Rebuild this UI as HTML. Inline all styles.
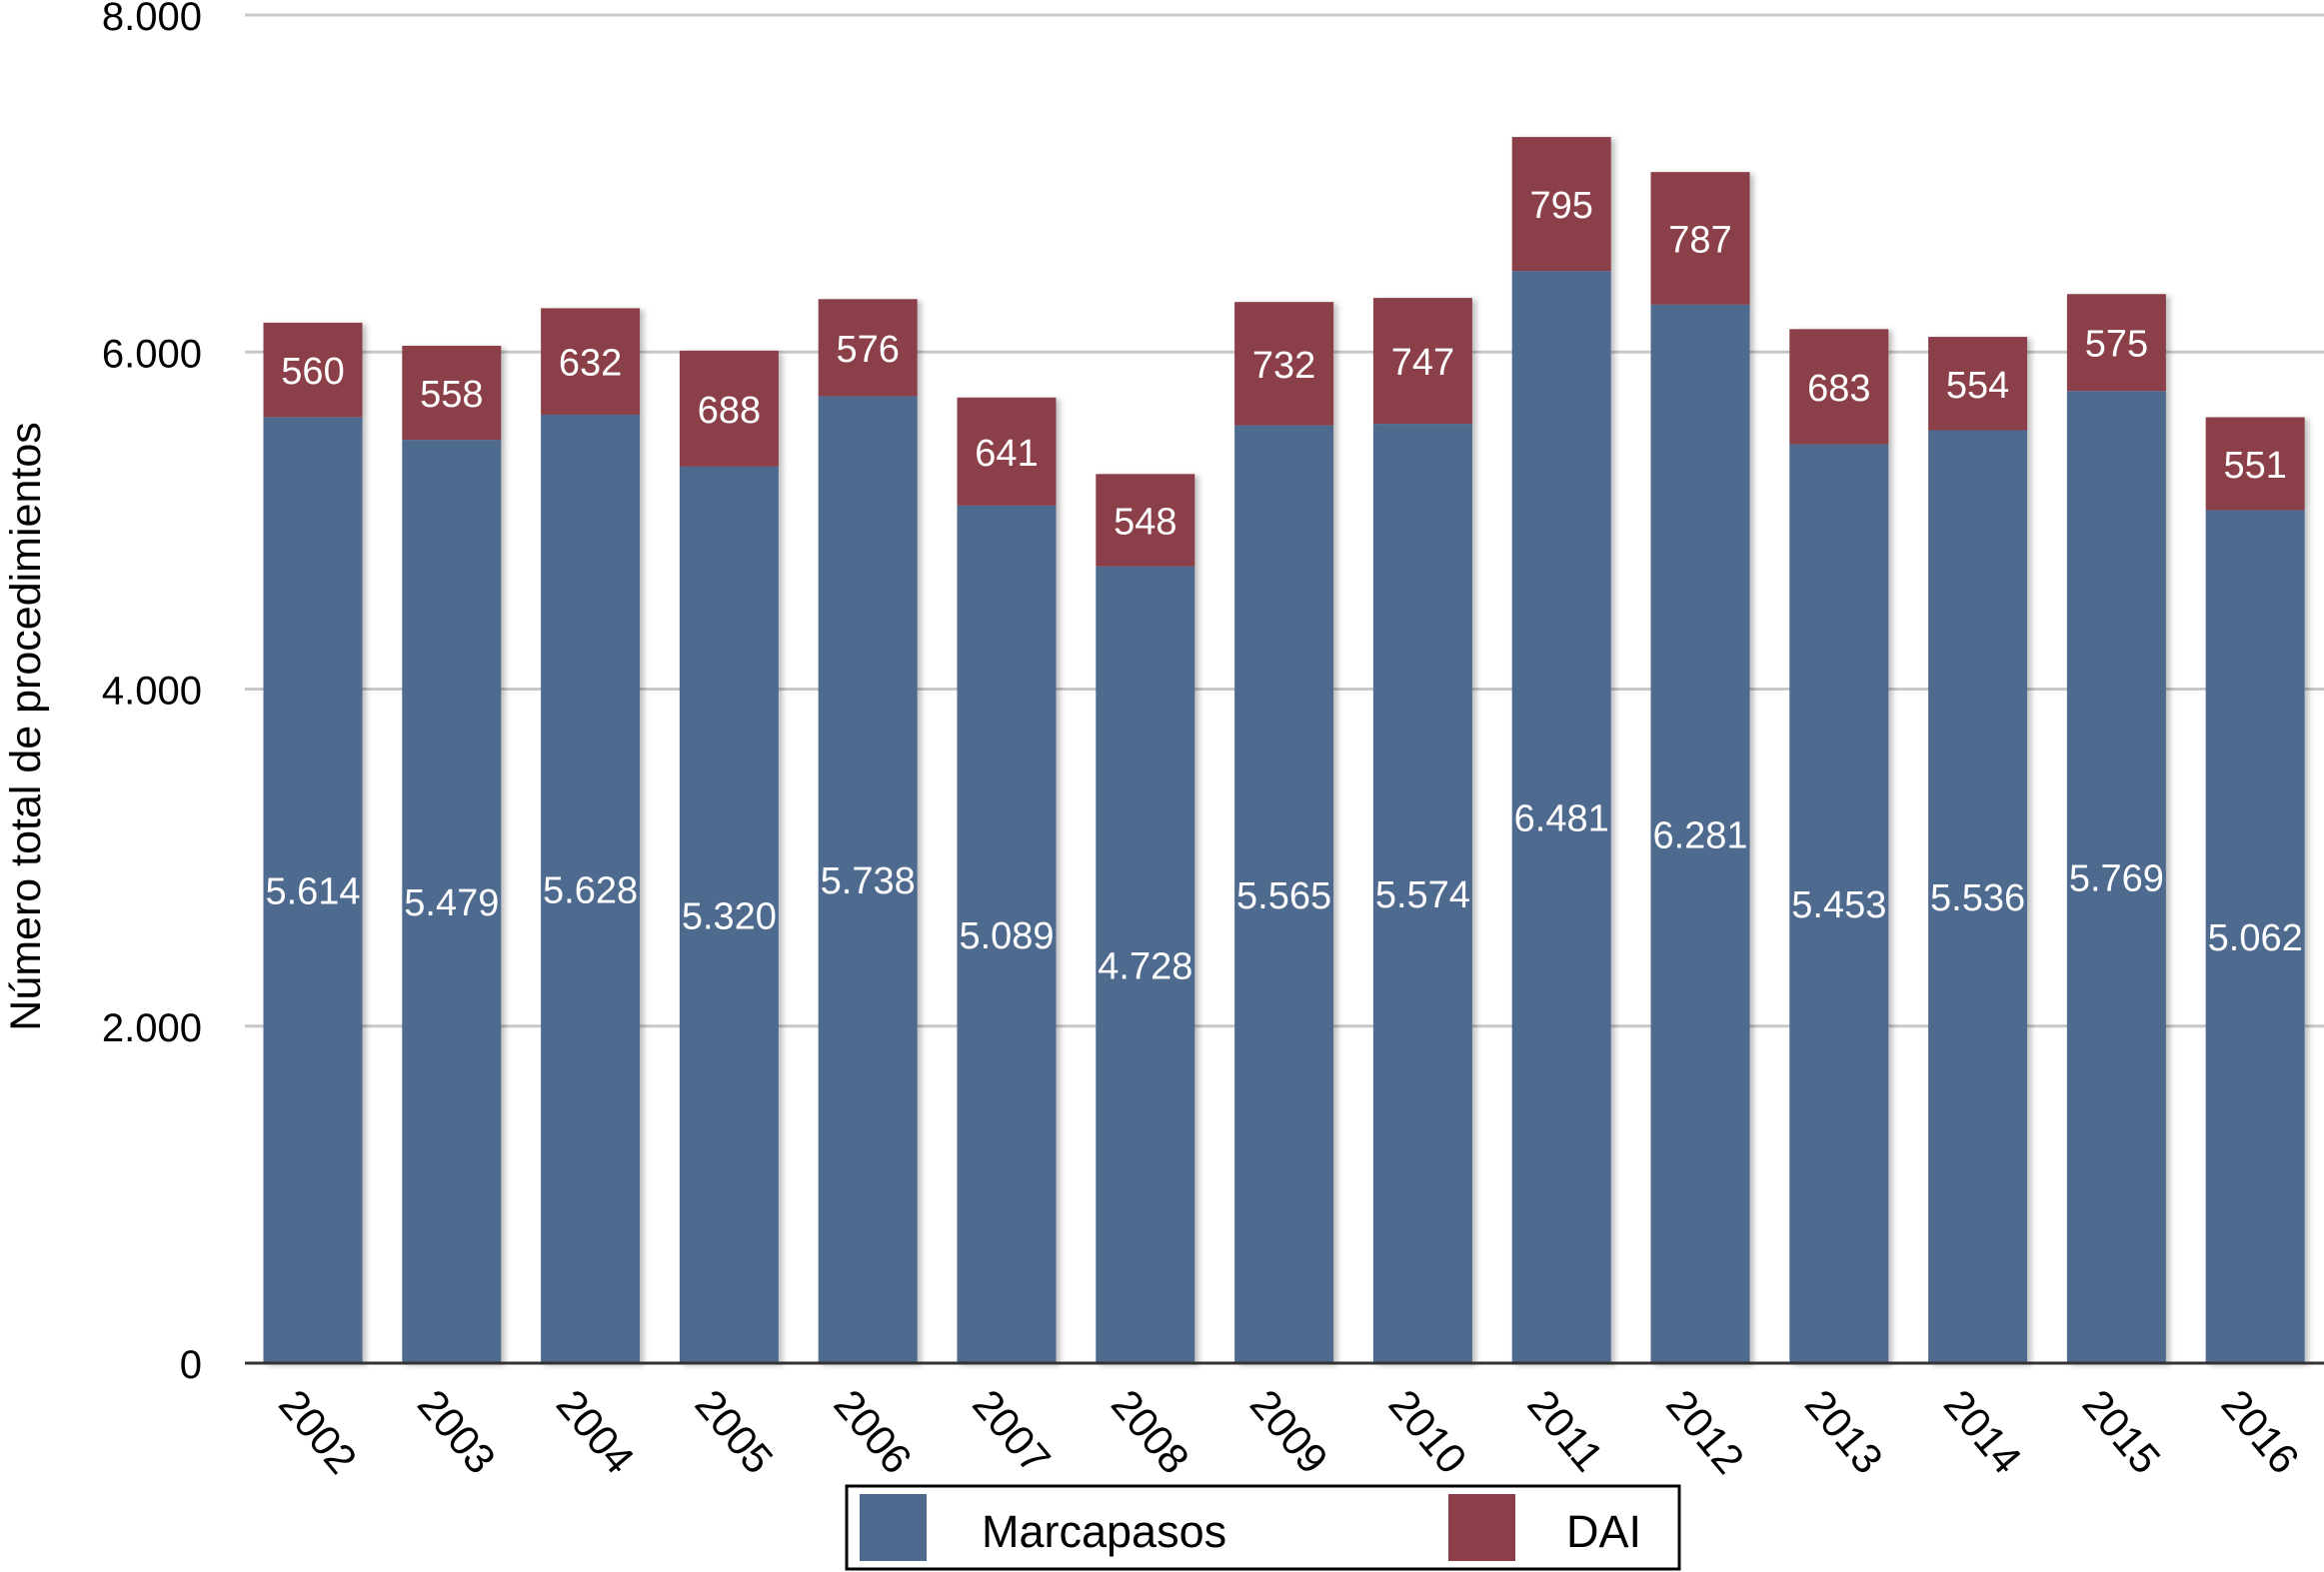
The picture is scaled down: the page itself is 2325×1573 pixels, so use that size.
<!DOCTYPE html>
<html><head><meta charset="utf-8"><style>
html,body{margin:0;padding:0;background:#fff;}
svg{display:block;font-family:"Liberation Sans",Arial,sans-serif;}
</style></head><body>
<svg id="chart" width="2325" height="1573" viewBox="0 0 2325 1573">
<defs>
<filter id="sh" x="-10%" y="-5%" width="130%" height="110%"><feDropShadow dx="4" dy="2" stdDeviation="3" flood-color="#000" flood-opacity="0.25"/></filter>
</defs>
<g id="grid"></g>
<g id="bars"></g>
<g id="axes"></g>
<text transform="translate(40,727) rotate(-90)" text-anchor="middle" font-size="43" fill="#000">Número total de procedimientos</text>
<g>
<rect x="847" y="1487" width="833" height="83" fill="#fff" stroke="#000" stroke-width="3"/>
<rect x="860" y="1495" width="67" height="67" fill="#4f6a8f"/>
<text x="982" y="1548" font-size="45" fill="#000">Marcapasos</text>
<rect x="1449" y="1495" width="67" height="67" fill="#8b3f48"/>
<text x="1567" y="1548" font-size="45" fill="#000">DAI</text>
</g>
</svg>
<script>
const years=["2002","2003","2004","2005","2006","2007","2008","2009","2010","2011","2012","2013","2014","2015","2016"];
const marcapasos=[5614,5479,5628,5320,5738,5089,4728,5565,5574,6481,6281,5453,5536,5769,5062];
const dai=[560,558,632,688,576,641,548,732,747,795,787,683,554,575,551];
const yTicks=[0,2000,4000,6000,8000];
const yTickLabels=["0","2.000","4.000","6.000","8.000"];
const NS="http://www.w3.org/2000/svg";
const y0=1364,yTop=15,yMax=8000;
const y=v=>y0-(v/yMax)*(y0-yTop);
const x0=313,step=138.8,bw=99;
const xc=i=>x0+i*step;
function mk(t,a,p){const e=document.createElementNS(NS,t);for(const k in a)e.setAttribute(k,a[k]);p.appendChild(e);return e;}
const fmt=v=>v>=1000?Math.floor(v/1000)+"."+String(v%1000).padStart(3,"0"):String(v);
const grid=document.getElementById('grid'),bars=document.getElementById('bars'),axes=document.getElementById('axes');
yTicks.forEach((t,i)=>{
  if(t>0){const l=mk('line',{x1:245,x2:2325,y1:y(t),y2:y(t),stroke:'#c8c8c8','stroke-width':3},grid);
  
  }
  const tx=mk('text',{x:202,y:y(t)+15,'text-anchor':'end','font-size':40,fill:'#000'},axes);
  tx.textContent=yTickLabels[i];
  
  
});
years.forEach((yr,i)=>{
  const cx=xc(i),m=marcapasos[i],d=dai[i];
  const g=mk('g',{filter:'url(#sh)'},bars);
  
  
  const b=mk('rect',{x:cx-bw/2,y:y(m),width:bw,height:y0-y(m),fill:'#4f6a8f'},g);
  
  
  const r=mk('rect',{x:cx-bw/2,y:y(m+d),width:bw,height:y(m)-y(m+d),fill:'#8b3f48'},g);
  
  
  const t1=mk('text',{x:cx,y:(y(m)+y0)/2+14,'text-anchor':'middle','font-size':38,fill:'#fff'},bars);
  t1.textContent=fmt(m);
  
  
  const t2=mk('text',{x:cx,y:(y(m)+y(m+d))/2+14,'text-anchor':'middle','font-size':38,fill:'#fff'},bars);
  t2.textContent=fmt(d);
  
  
  const xl=mk('text',{transform:`translate(${cx-36},${y0+42}) rotate(50)`,'font-size':42,fill:'#000'},axes);
  xl.textContent=yr;
  
  
});
const ax=mk('line',{x1:245,x2:2325,y1:y0,y2:y0,stroke:'#333','stroke-width':3},axes);


</script>
</body></html>
